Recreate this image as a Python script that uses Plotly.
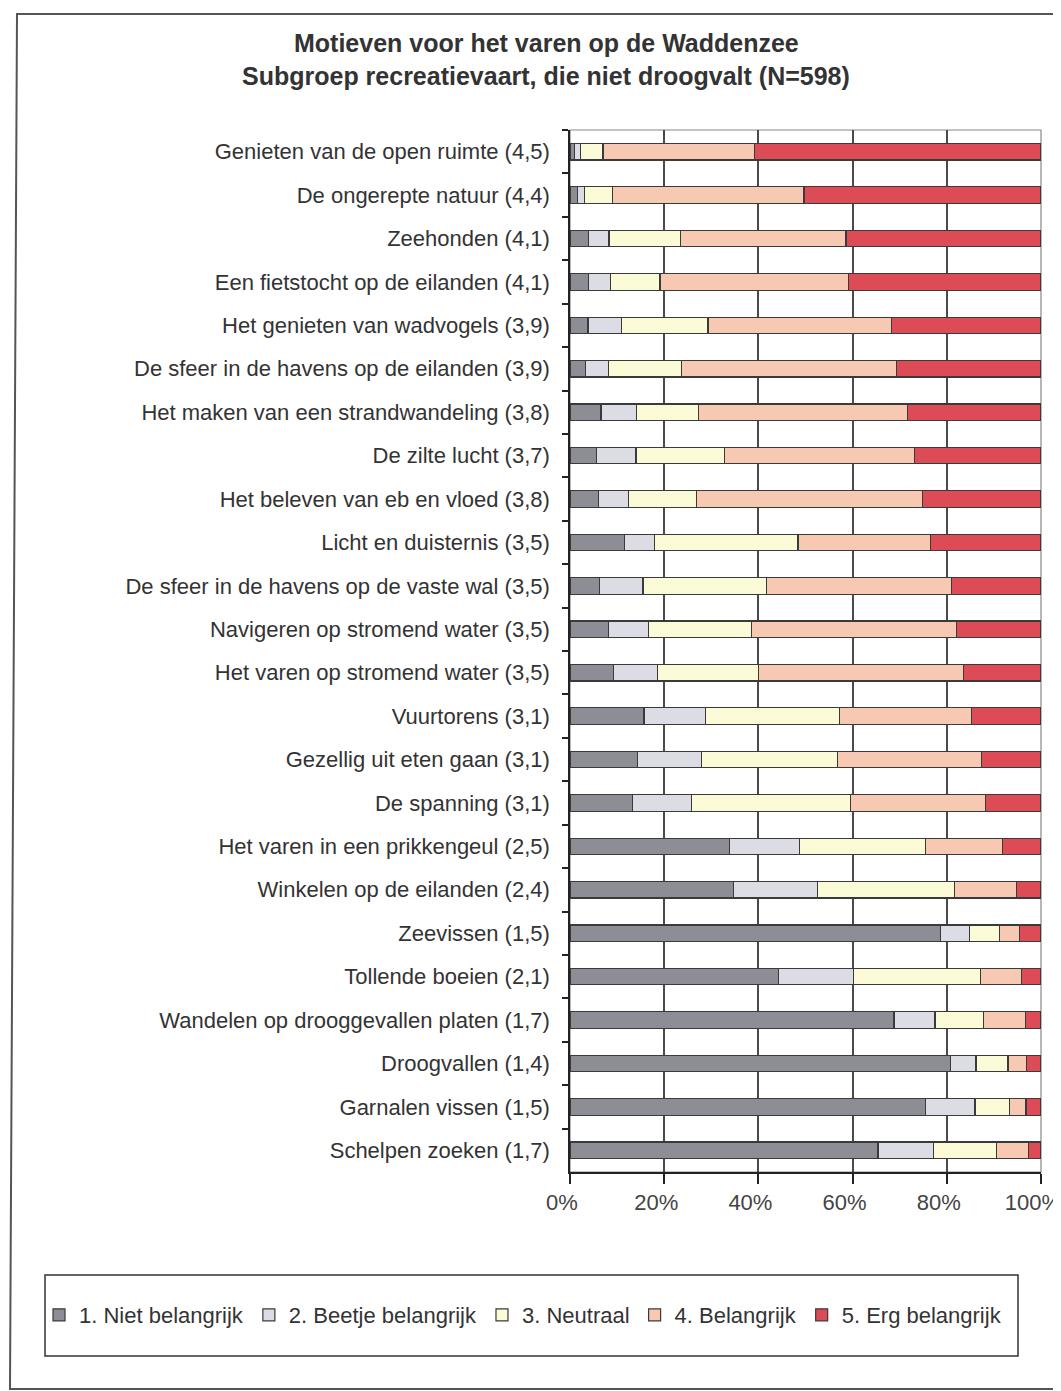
import plotly.graph_objects as go

categories = [
    "Genieten van de open ruimte (4,5)",
    "De ongerepte natuur (4,4)",
    "Zeehonden (4,1)",
    "Een fietstocht op de eilanden (4,1)",
    "Het genieten van wadvogels (3,9)",
    "De sfeer in de havens op de eilanden (3,9)",
    "Het maken van een strandwandeling (3,8)",
    "De zilte lucht (3,7)",
    "Het beleven van eb en vloed (3,8)",
    "Licht en duisternis (3,5)",
    "De sfeer in de havens op de vaste wal (3,5)",
    "Navigeren op stromend water (3,5)",
    "Het varen op stromend water (3,5)",
    "Vuurtorens (3,1)",
    "Gezellig uit eten gaan (3,1)",
    "De spanning (3,1)",
    "Het varen in een prikkengeul (2,5)",
    "Winkelen op de eilanden (2,4)",
    "Zeevissen (1,5)",
    "Tollende boeien (2,1)",
    "Wandelen op drooggevallen platen (1,7)",
    "Droogvallen (1,4)",
    "Garnalen vissen (1,5)",
    "Schelpen zoeken (1,7)",
]

niet_belangrijk = [1.0, 1.6, 3.9, 4.0, 3.8, 3.3, 6.6, 5.7, 6.0, 11.6, 6.2, 8.2,
                   9.3, 15.7, 14.4, 13.2, 33.9, 34.7, 78.7, 44.2, 68.8, 80.8, 75.5, 65.4]
beetje_belangrijk = [1.3, 1.5, 4.4, 4.6, 7.2, 4.8, 7.5, 8.3, 6.5, 6.3, 9.3, 8.4,
                     9.2, 13.1, 13.5, 12.6, 14.8, 17.9, 6.1, 16.0, 8.7, 5.4, 10.5, 11.8]
neutraal = [4.7, 6.0, 15.1, 10.5, 18.3, 15.6, 13.2, 18.8, 14.3, 30.5, 26.3, 22.0,
            21.5, 28.4, 28.9, 33.7, 26.7, 29.1, 6.4, 26.9, 10.3, 6.8, 7.3, 13.3]
belangrijk = [32.2, 40.6, 35.2, 40.0, 38.9, 45.7, 44.4, 40.3, 48.0, 28.2, 39.2, 43.5,
              43.5, 28.0, 30.6, 28.7, 16.4, 13.1, 4.3, 8.8, 8.9, 4.0, 3.5, 6.8]
erg_belangrijk = [60.8, 50.3, 41.4, 40.9, 31.8, 30.6, 28.3, 26.9, 25.2, 23.4, 19.0, 17.9,
                  16.5, 14.8, 12.6, 11.8, 8.2, 5.2, 4.5, 4.1, 3.3, 3.0, 3.2, 2.7]

series_names = ["1. Niet belangrijk", "2. Beetje belangrijk", "3. Neutraal",
                "4. Belangrijk", "5. Erg belangrijk"]
series_values = [niet_belangrijk, beetje_belangrijk, neutraal, belangrijk, erg_belangrijk]
series_colors = ["#8d8d95", "#dcdde4", "#fbfbd8", "#f7c9b3", "#dc4b56"]

x_tickvals = [0, 20, 40, 60, 80, 100]
x_ticktext = ["0%", "20%", "40%", "60%", "80%", "100%"]

fig = go.Figure()
for name, vals, col in zip(series_names, series_values, series_colors):
    fig.add_trace(go.Bar(
        y=categories, x=vals, name=name, orientation="h",
        marker=dict(color=col, line=dict(color="#3a3a3a", width=1.2)),
    ))

# page body has an 8px margin, so figure coordinates = picture coordinates - 8
W, H = 1053, 1383
L, R, T, B = 562, 1033, 122, 1164


def px(x):
    return (x - L) / (R - L)


def py(y):
    return (B - y) / (B - T)


fig.update_layout(
    width=W, height=H,
    barmode="stack",
    bargap=0.62,
    paper_bgcolor="white",
    plot_bgcolor="white",
    margin=dict(l=L, r=W - R, t=T, b=H - B, autoexpand=False),
    font=dict(family="Liberation Sans, Arial, sans-serif", size=22, color="#333333"),
    showlegend=True,
    legend=dict(
        orientation="h", x=px(31), xanchor="left",
        y=py(1307), yanchor="middle",
        font=dict(size=22, color="#333333"),
        itemwidth=30, bgcolor="rgba(0,0,0,0)", traceorder="normal",
    ),
    xaxis=dict(
        range=[0, 100], tickvals=x_tickvals, ticktext=x_ticktext,
        showgrid=True, gridcolor="#4a4a4a", gridwidth=1.5,
        showline=True, linecolor="#222222", linewidth=1.5,
        ticks="outside", ticklen=10, tickcolor="#222222", tickwidth=1.5,
        tickfont=dict(size=22, color="#444444"), zeroline=False,
        ticklabelshift=-8, ticklabeloverflow="allow",
    ),
    yaxis=dict(
        autorange="reversed", type="category",
        showline=True, linecolor="#222222", linewidth=1.5,
        ticks="outside", ticklen=6, tickcolor="#222222", tickwidth=1.5,
        tickson="boundaries", ticklabelstandoff=14,
        tickfont=dict(size=22, color="#333333"), showgrid=False,
    ),
    annotations=[
        dict(text="<b>Motieven voor het varen op de Waddenzee</b>", xref="paper", yref="paper",
             x=px(538), y=py(35), xanchor="center", yanchor="middle",
             showarrow=False, font=dict(size=25, color="#333333")),
        dict(text="<b>Subgroep recreatievaart, die niet droogvalt (N=598)</b>", xref="paper", yref="paper",
             x=px(538), y=py(68), xanchor="center", yanchor="middle",
             showarrow=False, font=dict(size=25, color="#333333")),
    ],
    shapes=[
        # plot area border (top/right)
        dict(type="rect", xref="paper", yref="paper", x0=0, x1=1, y0=0, y1=1,
             line=dict(color="#888888", width=1.2), layer="below"),
        # legend box
        dict(type="rect", xref="paper", yref="paper",
             x0=px(37), x1=px(1010), y0=py(1348), y1=py(1267),
             line=dict(color="#333333", width=1.5)),
        # outer chart frame (left, top, bottom edges; right edge lies outside the picture)
        dict(type="path", xref="paper", yref="paper",
             path=f"M {px(1100)},{py(6)} L {px(9)},{py(6)} L {px(2)},{py(1381)} L {px(1100)},{py(1381)}",
             line=dict(color="#555555", width=2)),
    ],
)

fig.write_html("out.html")
